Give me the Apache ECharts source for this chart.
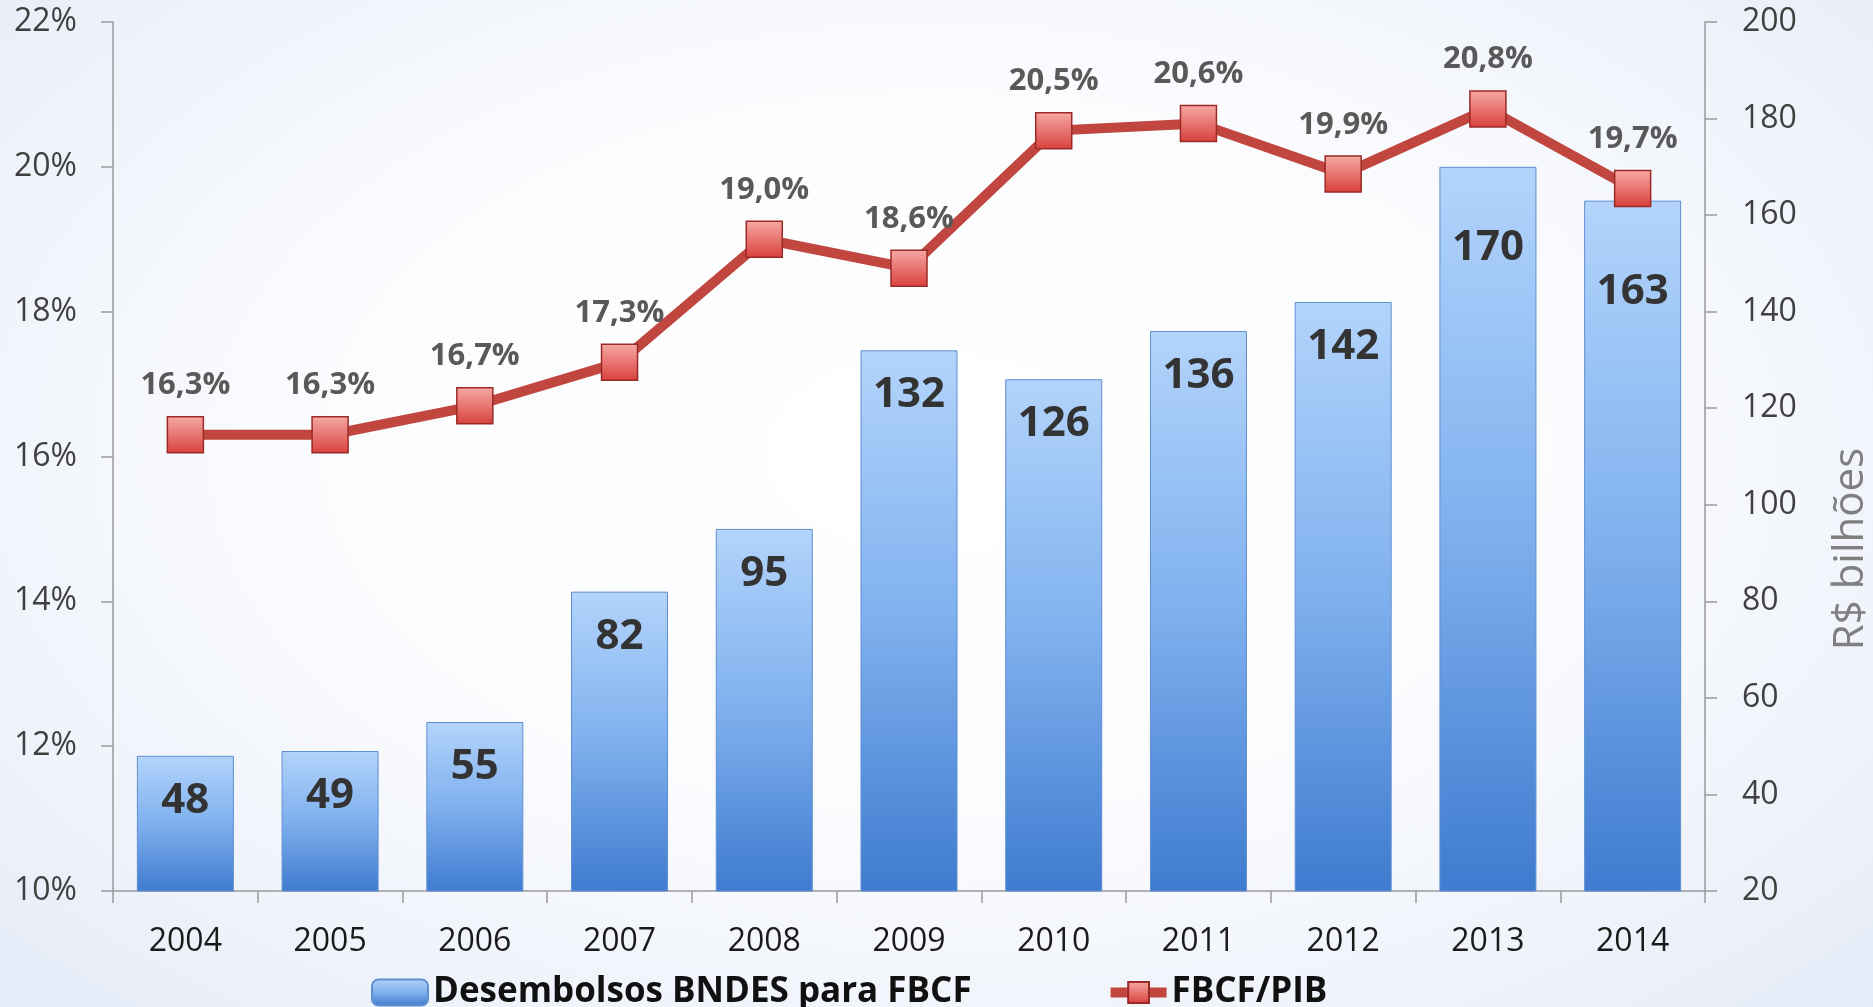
<!DOCTYPE html>
<html>
<head>
<meta charset="utf-8">
<script src="https://cdn.jsdelivr.net/npm/echarts@6/dist/echarts.min.js"></script>
<style>
  html, body { margin: 0; padding: 0; }
  body {
    width: 1873px; height: 1007px; overflow: hidden;
    background: radial-gradient(ellipse at 50% 45%, #ffffff 0%, #fbfcfe 45%, #eef2fa 80%, #e4ebf7 100%);
  }
  #chart { width: 1873px; height: 1007px; }
</style>
</head>
<body>
<div id="chart"></div>
<script>
// anos
const years = ['2004', '2005', '2006', '2007', '2008', '2009', '2010', '2011', '2012', '2013', '2014']
// desembolsos BNDES para FBCF, R$ bilhoes
const desembolsos = [48, 49, 55, 82, 95, 132, 126, 136, 142, 170, 163]
// FBCF / PIB, %
const fbcfPib = [16.3, 16.3, 16.7, 17.3, 19.0, 18.6, 20.5, 20.6, 19.9, 20.8, 19.7]

const FONT = '"Open Sans", "Noto Sans", sans-serif'

// rotulos das barras que ficam por baixo da linha
const labelDistance = { 9: 60, 10: 70 }

let barData = desembolsos.map((v, i) => {
  if (labelDistance[i] === undefined) return v
  return { value: v, label: { distance: labelDistance[i] } }
})

const barColor = new echarts.graphic.LinearGradient(0, 0, 0, 1, [
  { offset: 0, color: '#b3d4fb' },
  { offset: 0.5, color: '#7fb0ee' },
  { offset: 1, color: '#3f7bcf' }
])

const markerColor = new echarts.graphic.LinearGradient(0, 0, 0, 1, [
  { offset: 0, color: '#f7aaa6' },
  { offset: 1, color: '#d8403c' }
])

var option = {
  backgroundColor: 'transparent',
  animation: false,
  textStyle: { fontFamily: FONT },
  grid: {
    left: 113,
    right: 168,
    top: 22,
    bottom: 116
  },
  legend: {
    left: 366,
    top: 970,
    itemWidth: 56,
    itemHeight: 26,
    itemGap: 134,
    textStyle: {
      fontFamily: FONT,
      fontSize: 35,
      fontWeight: 'bold',
      color: '#111'
    },
    data: [
      'Desembolsos BNDES para FBCF',
      { name: 'FBCF/PIB', lineStyle: { width: 10 } }
    ]
  },
  xAxis: {
    type: 'category',
    data: years,
    axisLine: { lineStyle: { color: '#9a9a9a', width: 1.5 } },
    axisTick: { show: true, length: 12, lineStyle: { color: '#9a9a9a', width: 1.5 } },
    axisLabel: { fontSize: 32, color: '#1a1a1a', margin: 35, fontFamily: FONT }
  },
  yAxis: [
    {
      type: 'value',
      position: 'left',
      min: 10,
      max: 22,
      interval: 2,
      splitLine: { show: false },
      axisLine: { show: true, lineStyle: { color: '#9a9a9a', width: 1.5 } },
      axisTick: { show: true, length: 12, lineStyle: { color: '#9a9a9a', width: 1.5 } },
      axisLabel: {
        fontSize: 32,
        color: '#404040',
        margin: 36,
        fontFamily: FONT,
        formatter: v => v + '%'
      }
    },
    {
      type: 'value',
      position: 'right',
      min: 20,
      max: 200,
      interval: 20,
      splitLine: { show: false },
      axisLine: { show: true, lineStyle: { color: '#9a9a9a', width: 1.5 } },
      axisTick: { show: true, length: 12, lineStyle: { color: '#9a9a9a', width: 1.5 } },
      axisLabel: { fontSize: 32, color: '#404040', margin: 37, fontFamily: FONT }
    }
  ],
  graphic: [{
    type: 'text',
    x: 1851,
    y: 549,
    rotation: Math.PI / 2,
    style: {
      text: 'R$ bilhões',
      fontSize: 42,
      fontFamily: FONT,
      fill: '#7f7f7f',
      align: 'center',
      verticalAlign: 'middle'
    }
  }],
  series: [
    {
      name: 'Desembolsos BNDES para FBCF',
      type: 'bar',
      yAxisIndex: 1,
      barWidth: 97,
      data: barData,
      itemStyle: {
        color: barColor,
        borderColor: '#5f8fd0',
        borderWidth: 1
      },
      label: {
        show: true,
        position: 'insideTop',
        distance: 24,
        fontSize: 42,
        lineHeight: 42,
        fontWeight: 'bold',
        fontFamily: FONT,
        color: '#333'
      },
      z: 2
    },
    {
      name: 'FBCF/PIB',
      type: 'line',
      yAxisIndex: 0,
      data: fbcfPib,
      symbol: 'rect',
      symbolSize: 36,
      lineStyle: { color: '#c0463f', width: 10 },
      itemStyle: {
        color: markerColor,
        borderColor: '#9b2a26',
        borderWidth: 1.5
      },
      label: {
        show: true,
        position: 'top',
        distance: 15,
        fontSize: 31,
        fontWeight: 'bold',
        fontFamily: FONT,
        color: '#595959',
        formatter: p => p.value.toFixed(1).replace('.', ',') + '%'
      },
      z: 5
    }
  ]
}

let myChart = echarts.init(document.getElementById('chart'))
myChart.setOption(option)
</script>
</body>
</html>
